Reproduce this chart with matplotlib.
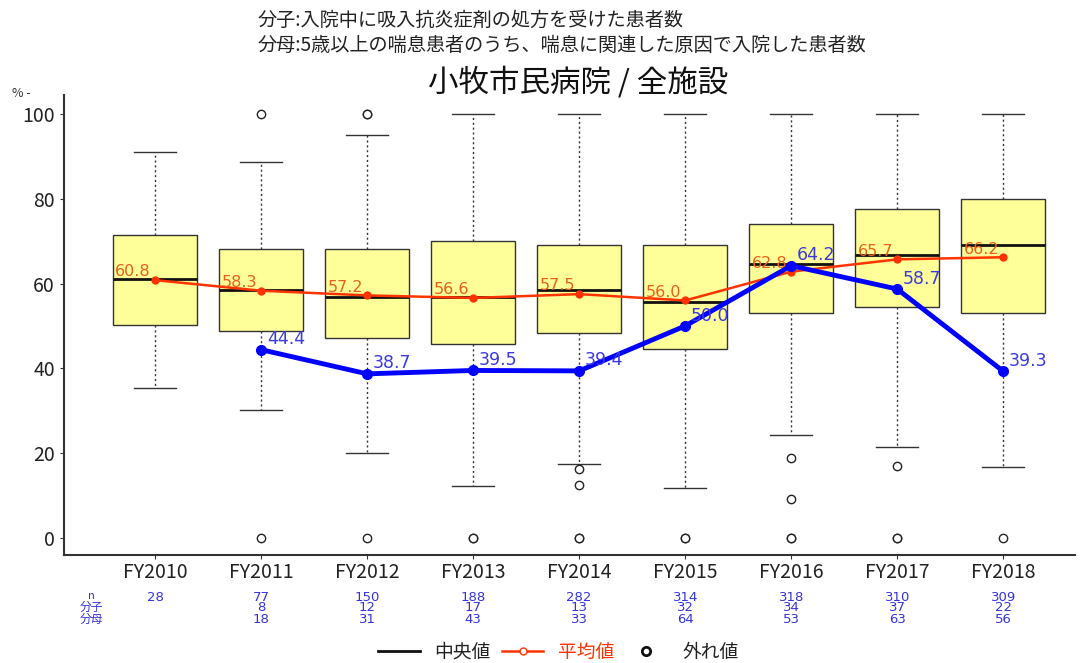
import matplotlib
matplotlib.use("Agg")
import matplotlib.pyplot as plt
from matplotlib.lines import Line2D
from matplotlib.transforms import blended_transform_factory

plt.rcParams['font.family'] = ['Noto Sans CJK JP', 'DejaVu Sans']

years = ["FY2010", "FY2011", "FY2012", "FY2013", "FY2014", "FY2015", "FY2016", "FY2017", "FY2018"]
q1 = [50.2, 48.8, 47.2, 45.8, 48.3, 44.6, 53.1, 54.5, 53.1]
med = [61.1, 58.5, 56.9, 56.8, 58.5, 55.7, 64.6, 66.7, 69.1]
q3 = [71.5, 68.2, 68.2, 70.0, 69.1, 69.1, 74.1, 77.6, 80.0]
wlo = [35.4, 30.2, 20.0, 12.3, 17.5, 11.8, 24.3, 21.5, 16.7]
whi = [91.0, 88.7, 95.0, 100.0, 100.0, 100.0, 100.0, 100.0, 100.0]
fliers = [[], [100, 0], [100, 100, 0], [0, 0], [16.3, 12.5, 0, 0], [0, 0], [18.9, 9.1, 0, 0], [17.0, 0, 0], [0]]
means = [60.8, 58.3, 57.2, 56.6, 57.5, 56.0, 62.8, 65.7, 66.2]
hosp_x = [1, 2, 3, 4, 5, 6, 7, 8]
hosp = [44.4, 38.7, 39.5, 39.4, 50.0, 64.2, 58.7, 39.3]
n_vals = ["28", "77", "150", "188", "282", "314", "318", "310", "309"]
num_vals = ["", "8", "12", "17", "13", "32", "34", "37", "22"]
den_vals = ["", "18", "31", "43", "33", "64", "53", "63", "56"]

fig = plt.figure(figsize=(10.84, 6.63), dpi=100)
ax = fig.add_axes([0.059, 0.163, 0.933, 0.694])

stats = []
for i in range(len(years)):
    stats.append(dict(med=med[i], q1=q1[i], q3=q3[i], whislo=wlo[i], whishi=whi[i], fliers=fliers[i]))
pos = list(range(len(years)))
ax.bxp(stats, positions=pos, widths=0.79, capwidths=0.4, patch_artist=True, showfliers=True,
       boxprops=dict(facecolor='#ffff99', edgecolor='#333333', linewidth=1.0),
       medianprops=dict(color='#111111', linewidth=2.0),
       whiskerprops=dict(color='#333333', linewidth=1.0, linestyle=(0, (1.5, 2))),
       capprops=dict(color='#333333', linewidth=1.0),
       flierprops=dict(marker='o', markerfacecolor='white', markeredgecolor='#222222', markersize=6, markeredgewidth=1.0))

ax.plot(pos, means, color='#ff3300', linewidth=1.8, marker='o', markersize=5,
        markerfacecolor='#ff3300', markeredgecolor='#ff3300', zorder=5)
for x, m in zip(pos, means):
    ax.annotate(f"{m:.1f}", (x, m), xytext=(-3, 0.5), textcoords='offset points', ha='right', va='bottom',
                fontsize=11.5, color='#e8601c', zorder=6, family=['DejaVu Sans'])

ax.plot(hosp_x, hosp, color='#0000ff', linewidth=3.5, marker='o', markersize=7, zorder=7)
for x, h in zip(hosp_x, hosp):
    ax.annotate(f"{h:.1f}", (x, h), xytext=(4, 1), textcoords='offset points', ha='left', va='bottom',
                fontsize=12.5, color='#3a3ae0', zorder=8, family=['DejaVu Sans'])

ax.set_xlim(-0.86, 8.68)
ax.set_ylim(-4, 104.5)
ax.set_xticks(pos)
ax.set_xticklabels(years, fontsize=14, color='#222222')
ax.set_yticks([0, 20, 40, 60, 80, 100])
ax.set_yticklabels(["0", "20", "40", "60", "80", "100"], fontsize=14, color='#222222')
ax.tick_params(axis='both', length=3, color='#333333')
ax.tick_params(axis='x', pad=2)
for s in ['top', 'right']:
    ax.spines[s].set_visible(False)
ax.spines['left'].set_color('#333333')
ax.spines['bottom'].set_color('#333333')
ax.spines['left'].set_linewidth(1.5)
ax.spines['bottom'].set_linewidth(1.5)

fig.text(0.011, 0.853, "% -", fontsize=9, color='#333333')

fig.text(0.238, 0.969, "分子:入院中に吸入抗炎症剤の処方を受けた患者数", fontsize=13.8, color='#222222', va='center')
fig.text(0.238, 0.931, "分母:5歳以上の喘息患者のうち、喘息に関連した原因で入院した患者数", fontsize=13.8, color='#222222', va='center')
fig.text(0.533, 0.875, "小牧市民病院 / 全施設", fontsize=22, color='#111111', ha='center', va='center')

tr = blended_transform_factory(ax.transData, fig.transFigure)
tc = '#3333dd'
for i in range(len(years)):
    ax.text(i, 0.0995, n_vals[i], transform=tr, ha='center', va='center', fontsize=9.5, color=tc, family=['DejaVu Sans'])
    ax.text(i, 0.083, num_vals[i], transform=tr, ha='center', va='center', fontsize=9.5, color=tc, family=['DejaVu Sans'])
    ax.text(i, 0.066, den_vals[i], transform=tr, ha='center', va='center', fontsize=9.5, color=tc, family=['DejaVu Sans'])
fig.text(0.084, 0.101, "n", fontsize=8, color=tc, ha='center', va='center')
fig.text(0.084, 0.0835, "分子", fontsize=8.5, color=tc, ha='center', va='center')
fig.text(0.084, 0.0655, "分母", fontsize=8.5, color=tc, ha='center', va='center')

handles = [Line2D([0], [0], color='#111111', linewidth=2),
           Line2D([0], [0], color='#ff3300', linewidth=1.8, marker='o', markersize=5, markerfacecolor='white'),
           Line2D([0], [0], color='none', marker='o', markersize=6, markerfacecolor='white', markeredgecolor='#111111', markeredgewidth=2)]
leg = fig.legend(handles, ["中央値", "平均値", "外れ値"], loc='center', bbox_to_anchor=(0.515, 0.016), ncol=3,
                 frameon=False, fontsize=13.5, handlelength=2.2, columnspacing=0.6, handletextpad=0.8)
texts = leg.get_texts()
texts[1].set_color('#ff3300')
texts[0].set_color('#222222')
texts[2].set_color('#222222')

fig.savefig("out.png", dpi=100)
